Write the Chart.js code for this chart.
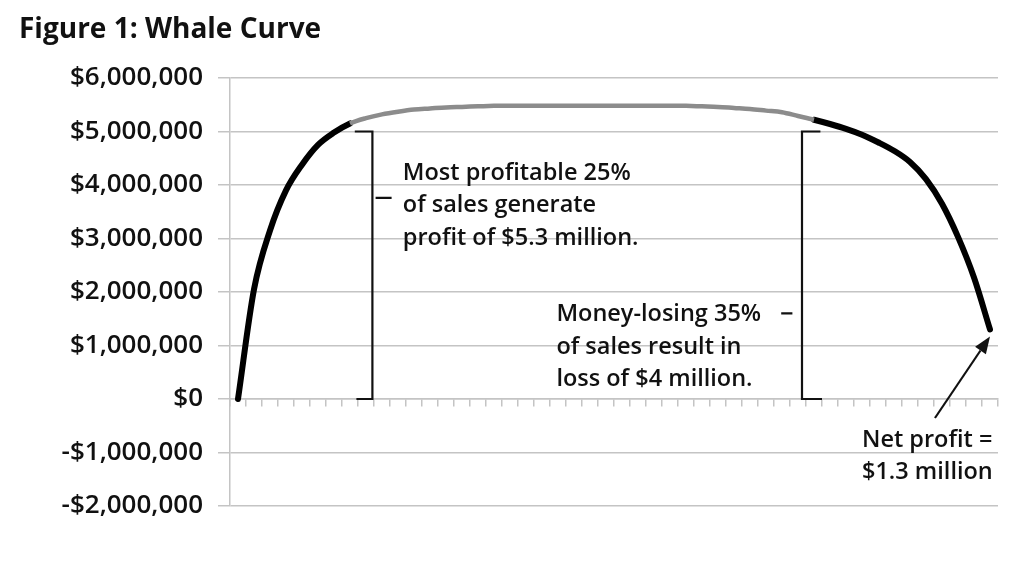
<!DOCTYPE html>
<html>
<head>
<meta charset="utf-8">
<script src="https://cdn.jsdelivr.net/npm/chart.js@4.4.0/dist/chart.umd.min.js"></script>
<style>
  html, body { margin: 0; padding: 0; background: #ffffff; }
  #wrap { width: 1024px; height: 561px; }
</style>
</head>
<body>
<div id="wrap"><canvas id="c" width="1024" height="561"></canvas></div>
<script>
// ---- Data ----
const titleText = 'Figure 1: Whale Curve';
const categories = Array.from({length: 48}, (_, i) => String(i + 1));
const cumulativeProfit = [
  0, 2050000, 3150000, 3900000, 4380000, 4750000, 4980000, 5150000,
  5250000, 5320000, 5370000, 5410000, 5430000, 5450000, 5460000, 5470000,
  5480000, 5480000, 5480000, 5480000, 5480000, 5480000, 5480000, 5480000,
  5480000, 5480000, 5480000, 5480000, 5480000, 5470000, 5460000, 5440000,
  5420000, 5390000, 5360000, 5290000, 5220000, 5140000, 5050000, 4940000,
  4800000, 4640000, 4430000, 4110000, 3650000, 3030000, 2270000, 1300000
];
const yTickValues = [-2000000, -1000000, 0, 1000000, 2000000, 3000000, 4000000, 5000000, 6000000];
const highlightStart = 7;   // first index of the gray (most profitable) section
const highlightEnd = 36;    // last index of the gray section
const noteTop = ['Most profitable 25%', 'of sales generate', 'profit of $5.3 million.'];
const noteLoss = ['Money-losing 35%', 'of sales result in', 'loss of $4 million.'];
const noteNet = ['Net profit =', '$1.3 million'];

const FONT = '"Open Sans", "DejaVu Sans", sans-serif';

function fmtMoney(v) {
  const s = Math.abs(v).toLocaleString('en-US');
  return (v < 0 ? '-$' : '$') + s;
}

const inGray = (ctx) => ctx.p0DataIndex >= highlightStart && ctx.p1DataIndex <= highlightEnd;

const annotations = {
  id: 'annotations',
  afterDatasetsDraw(chart) {
    const {ctx, scales: {x, y}} = chart;
    const px = (i) => x.getPixelForValue(i);
    const py = (v) => y.getPixelForValue(v);
    ctx.save();
    ctx.strokeStyle = '#111';
    ctx.lineWidth = 2.2;
    ctx.lineCap = 'butt';
    // left bracket
    const lb = 8.4;
    ctx.beginPath();
    ctx.moveTo(px(lb - 1.1), py(5000000));
    ctx.lineTo(px(lb), py(5000000));
    ctx.lineTo(px(lb), py(0));
    ctx.lineTo(px(lb - 1.0), py(0));
    ctx.moveTo(px(lb + 0.2), py(3760000));
    ctx.lineTo(px(lb + 1.2), py(3760000));
    ctx.stroke();
    // right bracket
    const rb = 35.25;
    ctx.beginPath();
    ctx.moveTo(px(rb + 1.15), py(5000000));
    ctx.lineTo(px(rb), py(5000000));
    ctx.lineTo(px(rb), py(0));
    ctx.lineTo(px(rb + 1.25), py(0));
    ctx.moveTo(px(rb - 0.6), py(1600000));
    ctx.lineTo(px(rb - 1.3), py(1600000));
    ctx.stroke();

    // texts
    ctx.fillStyle = '#111';
    ctx.font = '600 23.5px ' + FONT;
    ctx.textAlign = 'left';
    ctx.textBaseline = 'middle';
    const lh = 32.5;
    noteTop.forEach((t, k) => ctx.fillText(t, px(10.3), py(4220000) + k * lh));
    noteLoss.forEach((t, k) => ctx.fillText(t, px(19.9), py(1580000) + k * lh));
    noteNet.forEach((t, k) => ctx.fillText(t, px(39.0), py(-770000) + k * lh));

    // arrow
    const x1 = px(43.56), y1 = py(-355000);
    const x2 = px(47.0), y2 = py(1170000);
    const ang = Math.atan2(y2 - y1, x2 - x1);
    const hl = 17, hw = 6.5;
    const bx = x2 - hl * Math.cos(ang), by = y2 - hl * Math.sin(ang);
    ctx.lineWidth = 2.2;
    ctx.beginPath();
    ctx.moveTo(x1, y1);
    ctx.lineTo(bx, by);
    ctx.stroke();
    ctx.beginPath();
    ctx.moveTo(x2, y2);
    ctx.lineTo(bx + hw * Math.sin(ang), by - hw * Math.cos(ang));
    ctx.lineTo(bx - hw * Math.sin(ang), by + hw * Math.cos(ang));
    ctx.closePath();
    ctx.fill();

    // title
    ctx.font = 'bold 28px ' + FONT;
    ctx.textBaseline = 'alphabetic';
    ctx.fillText(titleText, 19, 38);
    ctx.restore();
  }
};

new Chart(document.getElementById('c'), {
  type: 'line',
  data: {
    labels: categories,
    datasets: [
      {
        data: cumulativeProfit,
        borderColor: '#000',
        borderWidth: 6,
        borderCapStyle: 'round',
        borderJoinStyle: 'round',
        pointRadius: 0,
        cubicInterpolationMode: 'monotone',
        segment: { borderColor: (c) => inGray(c) ? 'rgba(0,0,0,0)' : '#000' },
        order: 2
      },
      {
        data: cumulativeProfit,
        borderColor: '#8c8c8c',
        borderWidth: 4.5,
        borderCapStyle: 'butt',
        pointRadius: 0,
        cubicInterpolationMode: 'monotone',
        segment: { borderColor: (c) => inGray(c) ? '#8c8c8c' : 'rgba(0,0,0,0)' },
        order: 1
      }
    ]
  },
  options: {
    responsive: false,
    animation: false,
    events: [],
    layout: { padding: { left: 0, right: 26, top: 78, bottom: 55 } },
    plugins: { legend: { display: false }, tooltip: { enabled: false }, title: { display: false } },
    scales: {
      x: {
        type: 'category',
        offset: true,
        position: { y: 0 },
        grid: { offset: true, drawOnChartArea: false, drawTicks: true, tickLength: 7, color: '#c4c4c4', lineWidth: 1.5 },
        border: { display: true, color: '#c4c4c4', width: 1.5 },
        ticks: { display: false }
      },
      y: {
        min: -2000000,
        max: 6000000,
        afterBuildTicks(scale) { scale.ticks = yTickValues.map(v => ({ value: v })); },
        afterFit(scale) { scale.width = 230; },
        grid: { color: '#c4c4c4', lineWidth: 1.5, tickLength: 12 },
        border: { display: true, color: '#c4c4c4', width: 1.5 },
        ticks: {
          padding: 15,
          color: '#111',
          font: { family: FONT, size: 26, weight: '600' },
          callback: (v) => fmtMoney(v)
        }
      }
    }
  },
  plugins: [annotations]
});
</script>
</body>
</html>
